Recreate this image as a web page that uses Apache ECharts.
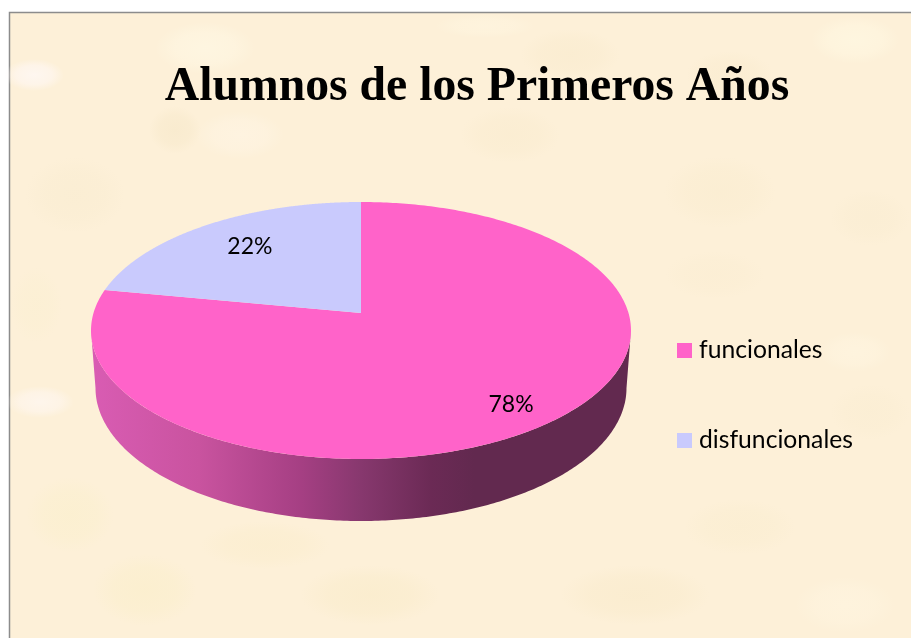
<!DOCTYPE html>
<html>
<head>
<meta charset="utf-8">
<style>html,body{margin:0;padding:0;background:#fff}#c{width:911px;height:638px}</style>
<script src="https://cdn.jsdelivr.net/npm/echarts@6/dist/echarts.min.js"></script>
</head>
<body>
<div id="c"></div>
<script>
const titleText = 'Alumnos de los Primeros Años';
const categories = ['funcionales', 'disfuncionales'];
const values = [78, 22];
const colors = ['#FF63C9', '#C9CAFD'];
const labelRadius = [0.83, 0.735];
const labelTurnShift = [0.0044, 0.0056];

// drawing geometry of the tilted disc
const TOP = {cx: 361, cy: 330.5, rx: 270, ry: 128.5};
const BASE = {cx: 361, cy: 388, rx: 265.5, ry: 133};
const TILT = 0.136; // perspective shift of the disc centre
const SIDE_STOPS = [
  [0, '#D95CB3'], [0.2, '#C9539F'], [0.39, '#A53F83'], [0.5, '#87386E'],
  [0.63, '#6B2A55'], [0.71, '#62294F'], [1, '#62294F']
];
// soft parchment mottling: centre x, centre y, half width, half height, rgb, alpha
const PATCHES = [
  [34,75,30,16,'255,248,246',.8],[40,402,34,16,'255,248,246',.65],[205,48,50,26,'255,249,230',.6],
  [175,130,26,24,'244,229,196',.45],[240,135,44,24,'255,246,232',.5],[570,55,50,26,'247,232,200',.4],
  [855,40,44,24,'255,248,226',.7],[730,75,44,24,'247,232,200',.35],[510,135,50,28,'247,232,200',.35],
  [75,195,50,38,'247,234,205',.4],[70,515,44,38,'250,239,203',.55],[145,590,52,36,'250,238,200',.55],
  [370,595,70,30,'248,234,198',.5],[635,595,75,30,'248,233,200',.5],[265,545,65,24,'250,236,202',.5],
  [845,605,50,28,'255,246,226',.5],[720,192,56,36,'248,234,203',.4],[870,218,40,28,'247,234,205',.35],
  [870,412,40,28,'248,235,206',.35],[715,275,50,24,'248,234,205',.3],[740,527,56,28,'249,236,205',.45],
  [855,352,36,20,'255,246,226',.55],[36,305,26,38,'250,239,208',.45],[485,26,50,12,'255,247,226',.5]
];

function project(turn, r) {           // turn: fraction of a full circle, clockwise from the top
  const a = turn * 2 * Math.PI;
  const u = r * Math.sin(a), v = r * Math.cos(a);
  const d = 1 + TILT * v;
  return [
    TOP.cx + TOP.rx * u * Math.sqrt(1 - TILT * TILT) / d,
    TOP.cy - TOP.ry * (v + TILT) / d
  ];
}
function ring(e, from, to, n) {
  const pts = [];
  for (let i = 0; i <= n; i++) {
    const t = from + (to - from) * i / n;
    pts.push([e.cx + e.rx * Math.cos(t), e.cy + e.ry * Math.sin(t)]);
  }
  return pts;
}
const total = values.reduce((s, v) => s + v, 0);

function makeRender(index) {
  return function (params, api) {
    const value = api.value(0);
    const start = values.slice(0, index).reduce((s, v) => s + v, 0) / total;
    const span = value / total;
    const pts = [project(0, 0)];
    const n = 360;
    for (let i = 0; i <= n; i++) pts.push(project(start + span * i / n, 1));
    const children = [];
    if (index === 0) {
      const side = ring(TOP, Math.PI, 0, 240).concat(ring(BASE, 0, Math.PI, 240));
      children.push({
        type: 'polygon', shape: {points: side},
        style: {fill: new echarts.graphic.LinearGradient(0, 0, 1, 0,
          SIDE_STOPS.map(s => ({offset: s[0], color: s[1]})))}
      });
    }
    children.push({
      type: 'polygon', shape: {points: pts},
      style: {fill: api.visual('color')}
    });
    const lp = project(start + span / 2 + labelTurnShift[index], labelRadius[index]);
    children.push({
      type: 'text', z2: 10,
      style: {text: value + '%', x: lp[0], y: lp[1] + 1.5, fill: '#000',
        font: '23px Lato', align: 'center', verticalAlign: 'middle'}
    });
    return {type: 'group', children};
  };
}

const chart = echarts.init(document.getElementById('c'), null, {renderer: 'canvas'});
chart.setOption({
  animation: false,
  backgroundColor: '#fff',
  graphic: [{
    type: 'rect', z: -10, silent: true,
    shape: {x: 9.5, y: 12.5, width: 910, height: 640},
    style: {fill: '#FDF0D8', stroke: '#8C8C8C', lineWidth: 1.5}
  }].concat(PATCHES.map(p => ({
    type: 'circle', z: -9, silent: true,
    x: p[0], y: p[1], scaleX: p[2] / 100, scaleY: p[3] / 100,
    shape: {cx: 0, cy: 0, r: 100},
    style: {fill: new echarts.graphic.RadialGradient(0.5, 0.5, 0.5, [
      {offset: 0, color: 'rgba(' + p[4] + ',' + p[5] + ')'},
      {offset: 0.6, color: 'rgba(' + p[4] + ',' + (p[5] * 0.7) + ')'},
      {offset: 1, color: 'rgba(' + p[4] + ',0)'}])}
  }))),
  title: {
    text: titleText, left: 472, top: 59, textAlign: 'center',
    textStyle: {fontFamily: 'Liberation Serif', fontWeight: 'bold', fontSize: 47.7, color: '#000'}
  },
  legend: {
    data: categories, orient: 'vertical', left: 677, top: 338, padding: 0,
    icon: 'rect', itemWidth: 15, itemHeight: 15, itemGap: 65,
    selectedMode: false,
    textStyle: {fontFamily: 'Lato', fontSize: 24.7, color: '#000', padding: [0, 0, 0, 2]}
  },
  series: categories.map((name, i) => ({
    type: 'custom', name, coordinateSystem: 'none', z: 2 + i,
    itemStyle: {color: colors[i]},
    data: [[values[i]]],
    renderItem: makeRender(i)
  }))
});
</script>
</body>
</html>
